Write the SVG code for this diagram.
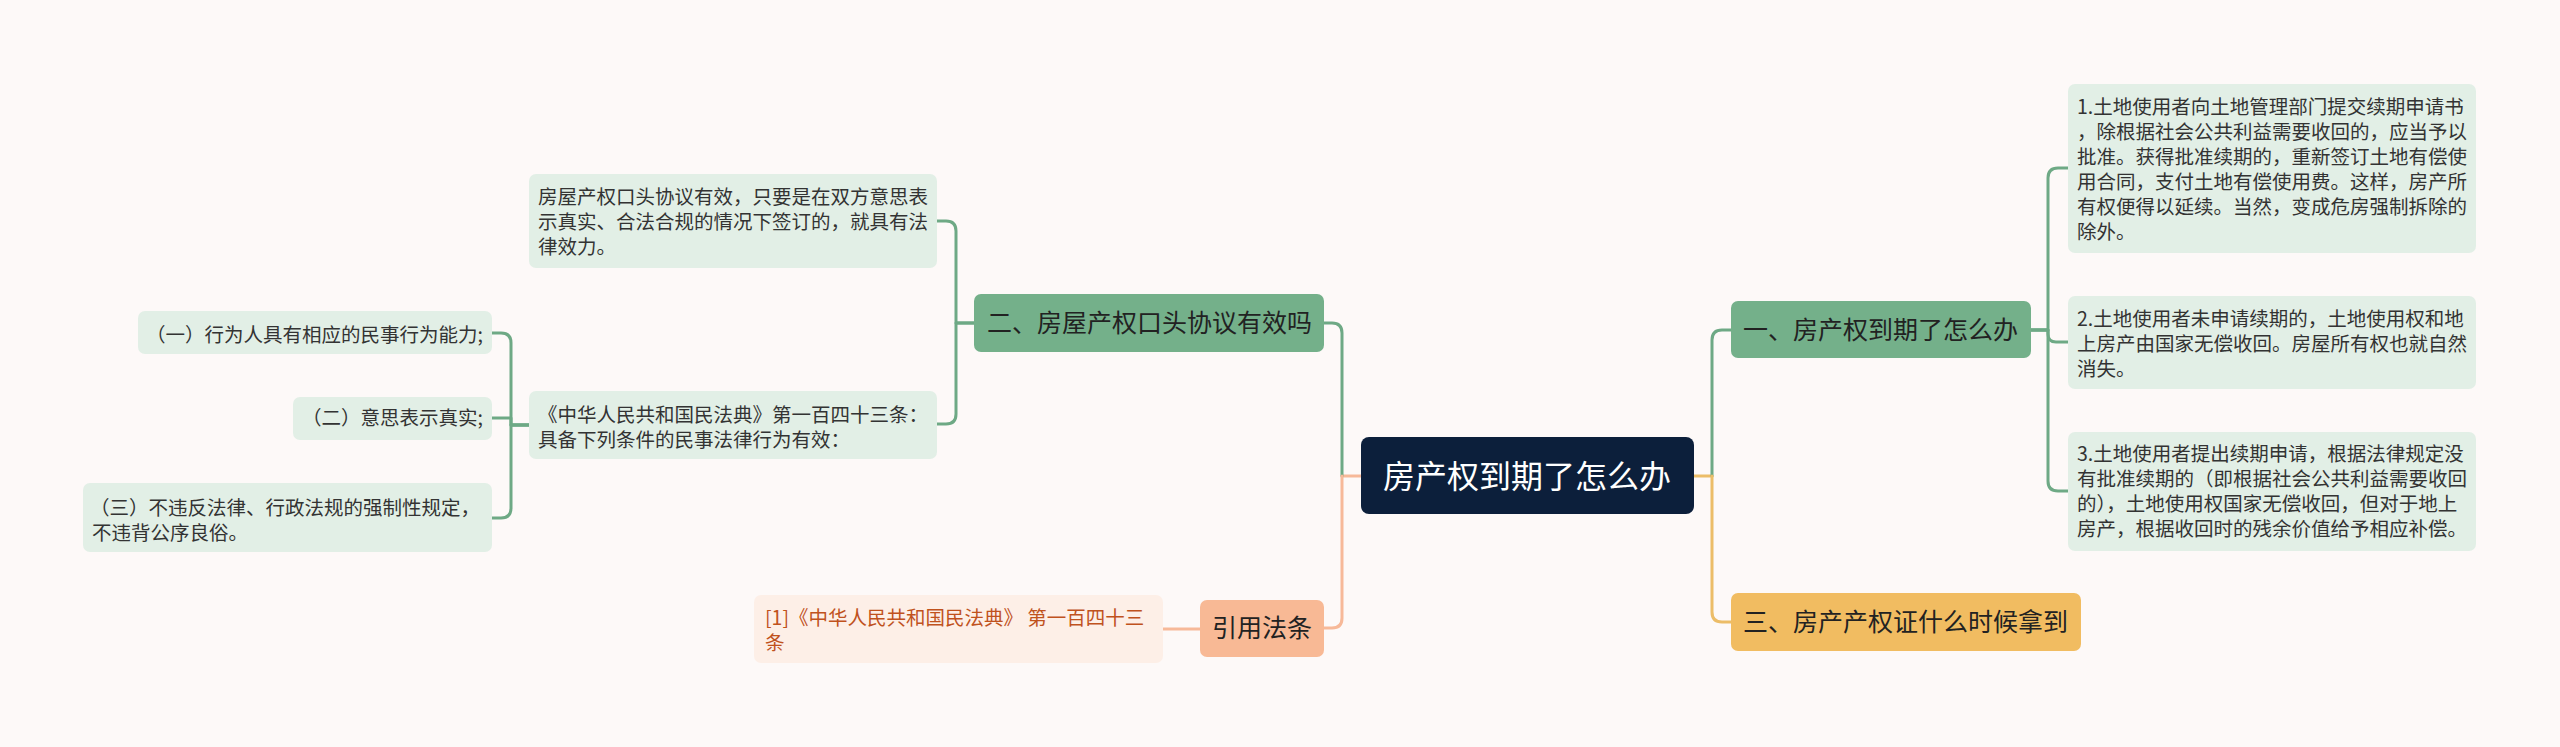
<svg xmlns="http://www.w3.org/2000/svg" width="2560" height="747" viewBox="0 0 2560 747">
<style>
text{font-family:"Noto Sans CJK SC","Noto Sans",sans-serif;}
.c{fill:none;stroke-width:3;stroke-linecap:round;stroke-linejoin:round;}
.g{stroke:#6ea985;}
.y{stroke:#ecbd68;}
.p{stroke:#f7b999;}
.d{fill:#e2efe6;}
.dt{font-size:19.5px;fill:#333333;}
.mn{font-size:25px;fill:#222222;}
.gn{fill:#74b08a;}
</style>
<rect width="2560" height="747" fill="#fdf9f8"/>
<g id="connectors">
<path class="c y" d="M1694,476 H1712"/>
<path class="c g" d="M1712,476 V340 Q1712,330 1722,330 H1731"/>
<path class="c y" d="M1712,476 V612 Q1712,622 1722,622 H1731"/>
<path class="c g" d="M2031,330 H2048 V178 Q2048,168 2058,168 H2068"/>
<path class="c g" d="M2031,330 H2048 V334 Q2048,342 2056,342 H2068"/>
<path class="c g" d="M2031,330 H2048 V481 Q2048,491 2058,491 H2068"/>
<path class="c p" d="M1361,476 H1342"/>
<path class="c g" d="M1342,476 V333 Q1342,323 1332,323 H1324"/>
<path class="c p" d="M1342,476 V618 Q1342,628 1332,628 H1324"/>
<path class="c g" d="M974,323 H956 V231 Q956,221 946,221 H937"/>
<path class="c g" d="M974,323 H956 V414 Q956,424 946,424 H937"/>
<path class="c g" d="M529,425 H511 V343 Q511,333 501,333 H492"/>
<path class="c g" d="M529,425 H511 V418 H492"/>
<path class="c g" d="M529,425 H511 V508 Q511,518 501,518 H492"/>
<path class="c p" d="M1200,629 H1163"/>
</g>
<g id="root">
<rect x="1361" y="437" width="333" height="77" rx="8" fill="#0c1f3b"/>
<text x="1527" y="488" font-size="32" fill="#ffffff" text-anchor="middle">房产权到期了怎么办</text>
</g>
<g id="n1">
<rect class="gn" x="1731" y="301" width="300" height="57" rx="7"/>
<text class="mn" x="1743" y="339">一、房产权到期了怎么办</text>
</g>
<g id="n1c1">
<rect class="d" x="2068" y="84" width="408" height="169" rx="7"/>
<text class="dt">
<tspan x="2077" y="114">1.土地使用者向土地管理部门提交续期申请书</tspan>
<tspan x="2077" y="139">，除根据社会公共利益需要收回的，应当予以</tspan>
<tspan x="2077" y="164">批准。获得批准续期的，重新签订土地有偿使</tspan>
<tspan x="2077" y="189">用合同，支付土地有偿使用费。这样，房产所</tspan>
<tspan x="2077" y="214">有权便得以延续。当然，变成危房强制拆除的</tspan>
<tspan x="2077" y="239">除外。</tspan>
</text>
</g>
<g id="n1c2">
<rect class="d" x="2068" y="296" width="408" height="93" rx="7"/>
<text class="dt">
<tspan x="2077" y="326">2.土地使用者未申请续期的，土地使用权和地</tspan>
<tspan x="2077" y="351">上房产由国家无偿收回。房屋所有权也就自然</tspan>
<tspan x="2077" y="376">消失。</tspan>
</text>
</g>
<g id="n1c3">
<rect class="d" x="2068" y="432" width="408" height="119" rx="7"/>
<text class="dt">
<tspan x="2077" y="461">3.土地使用者提出续期申请，根据法律规定没</tspan>
<tspan x="2077" y="486">有批准续期的（即根据社会公共利益需要收回</tspan>
<tspan x="2077" y="511">的），土地使用权国家无偿收回，但对于地上</tspan>
<tspan x="2077" y="536">房产，根据收回时的残余价值给予相应补偿。</tspan>
</text>
</g>
<g id="n3">
<rect x="1731" y="593" width="350" height="58" rx="7" fill="#f1bc61"/>
<text class="mn" x="1743" y="631">三、房产产权证什么时候拿到</text>
</g>
<g id="n2">
<rect class="gn" x="974" y="294" width="350" height="58" rx="7"/>
<text class="mn" x="987" y="332">二、房屋产权口头协议有效吗</text>
</g>
<g id="n2c1">
<rect class="d" x="529" y="174" width="408" height="94" rx="7"/>
<text class="dt">
<tspan x="538" y="204">房屋产权口头协议有效，只要是在双方意思表</tspan>
<tspan x="538" y="229">示真实、合法合规的情况下签订的，就具有法</tspan>
<tspan x="538" y="254">律效力。</tspan>
</text>
</g>
<g id="n2c2">
<rect class="d" x="529" y="391" width="408" height="68" rx="7"/>
<text class="dt">
<tspan x="538" y="422">《中华人民共和国民法典》第一百四十三条：</tspan>
<tspan x="538" y="447">具备下列条件的民事法律行为有效：</tspan>
</text>
</g>
<g id="n2c2a">
<rect class="d" x="138" y="311" width="354" height="43" rx="7"/>
<text class="dt" x="483" y="342" text-anchor="end">（一）行为人具有相应的民事行为能力;</text>
</g>
<g id="n2c2b">
<rect class="d" x="293" y="397" width="199" height="43" rx="7"/>
<text class="dt" x="483" y="425" text-anchor="end">（二）意思表示真实;</text>
</g>
<g id="n2c2c">
<rect class="d" x="83" y="483" width="409" height="69" rx="7"/>
<text class="dt">
<tspan x="90" y="515">（三）不违反法律、行政法规的强制性规定，</tspan>
<tspan x="92" y="540">不违背公序良俗。</tspan>
</text>
</g>
<g id="ref">
<rect x="1200" y="600" width="124" height="57" rx="7" fill="#f8b995"/>
<text class="mn" x="1262" y="637" text-anchor="middle">引用法条</text>
</g>
<g id="refc">
<rect x="754" y="595" width="409" height="68" rx="7" fill="#fdefe7"/>
<text class="dt" style="fill:#c0521d">
<tspan x="765" y="625">[1]《中华人民共和国民法典》 第一百四十三</tspan>
<tspan x="765" y="650">条</tspan>
</text>
</g>
</svg>
